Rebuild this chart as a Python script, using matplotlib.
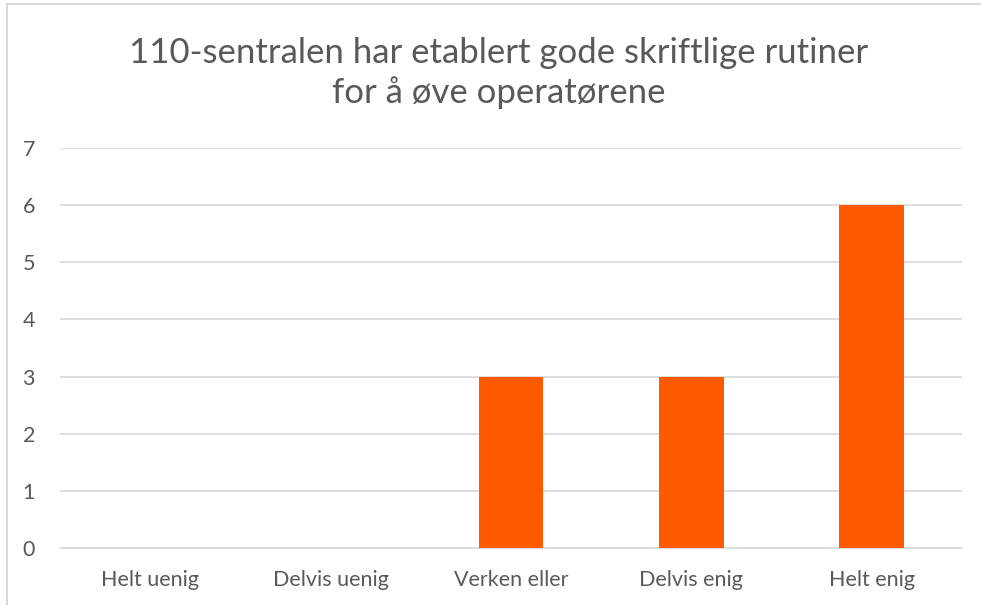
import matplotlib.pyplot as plt
from matplotlib.patches import Rectangle

kategorier = ['Helt uenig', 'Delvis uenig', 'Verken eller', 'Delvis enig', 'Helt enig']
antall = [0, 0, 3, 3, 6]
tittel = '110-sentralen har etablert gode skriftlige rutiner\nfor å øve operatørene'

plt.rcParams['font.family'] = ['Lato', 'DejaVu Sans']
grå = '#595959'

fig = plt.figure(figsize=(9.81, 6.05), dpi=100)
ax = fig.add_axes([60 / 981, 1 - 548 / 605, 902 / 981, 400 / 605])

x = range(len(kategorier))
ax.bar(x, antall, width=0.36, color='#FF5A00', zorder=3)

ax.set_xlim(-0.5, len(kategorier) - 0.5)
ax.set_ylim(0, 7)
ax.set_yticks(range(8))
ax.set_xticks(list(x))
ax.set_xticklabels(kategorier)
ax.yaxis.grid(True, color='#D9D9D9', linewidth=1.2, zorder=0)
for s in ['top', 'right', 'left']:
    ax.spines[s].set_visible(False)
ax.spines['bottom'].set_color('#D9D9D9')
ax.spines['bottom'].set_linewidth(1.2)
ax.tick_params(axis='both', length=0, labelsize=15.5, labelcolor=grå)
ax.tick_params(axis='y', pad=18)
ax.tick_params(axis='x', pad=16)

fig.text(0.508, 1 - 73 / 605, tittel, ha='center', va='center', fontsize=25,
         color=grå, linespacing=1.3)

# ramme rundt diagrammet
fig.patches.append(Rectangle((7 / 981, -0.1), 1.2, 1 - 4 / 605 + 0.1,
                             transform=fig.transFigure, fill=False,
                             edgecolor='#D9D9D9', linewidth=1.5))

fig.savefig('out.png', dpi=100)
